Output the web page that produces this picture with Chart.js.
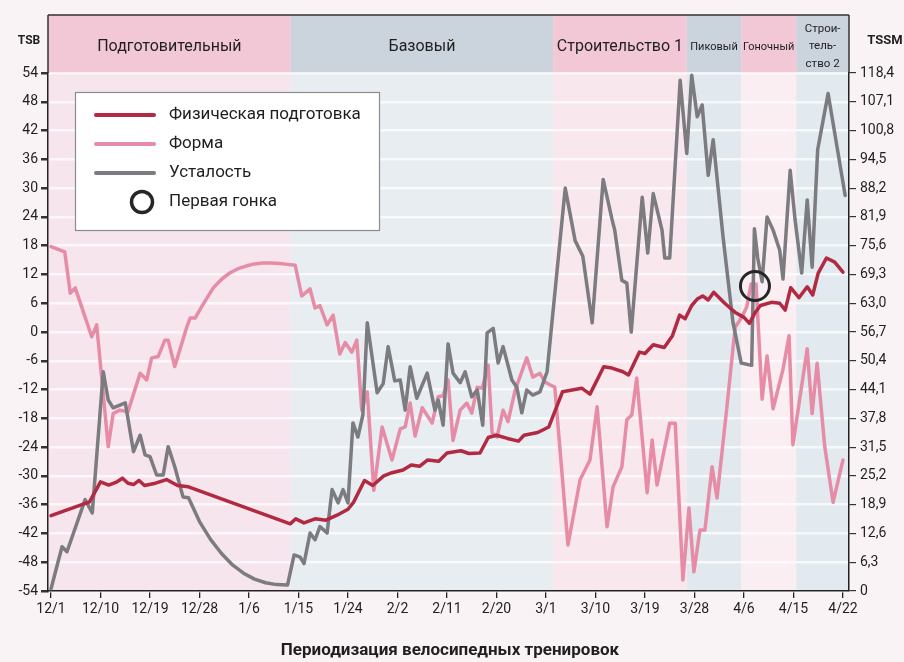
<!DOCTYPE html>
<html lang="ru">
<head>
<meta charset="utf-8">
<title>Периодизация велосипедных тренировок</title>
<script src="https://cdn.jsdelivr.net/npm/chart.js@4.4.1/dist/chart.umd.min.js"></script>
<style>
  html, body { margin: 0; padding: 0; background: #f9f3f6; }
  #chart { display: block; }
</style>
</head>
<body>
<canvas id="chart" width="904" height="662"></canvas>
<script>
// x axis = days since 12/1
const dayTicks = [0, 9, 18, 27, 36, 45, 54, 63, 72, 81, 90, 99, 108, 117, 126, 135, 144];
const dateLabels = ['12/1', '12/10', '12/19', '12/28', '1/6', '1/15', '1/24', '2/2', '2/11', '2/20', '3/1', '3/10', '3/19', '3/28', '4/6', '4/15', '4/22'];
const tssmLabels = ['0', '6,3', '12,6', '18,9', '25,2', '31,5', '37,8', '44,1', '50,4', '56,7', '63,0', '69,3', '75,6', '81,9', '88,2', '94,5', '100,8', '107,1', '118,4'];

// training phases and the days where one phase gives way to the next
const phaseNames = ['Подготовительный', 'Базовый', 'Строительство 1', 'Пиковый', 'Гоночный', ['Строи-', 'тель-', 'ство 2']];
const phaseBreaks = [43.6, 91.3, 115.6, 125.5, 135.5];

// Физическая подготовка (CTL), right axis
const fitnessDays = [0, 7, 9, 10.5, 12, 13, 14, 15, 16, 17, 19, 21, 23, 25, 43.5, 44.5, 46, 48, 50, 52, 54, 55, 57, 58.5, 60.5, 62, 64, 65.5, 67, 68.5, 70.5, 72, 74.5, 76, 78, 79.5, 81, 83, 85, 86, 88.5, 90.5, 93, 96.5, 98, 100.5, 102, 104, 105, 107, 108, 109.5, 111.5, 113, 114.3, 115.3, 116.5, 117.5, 118.5, 119.5, 120.5, 122.5, 124.5, 126, 127, 128, 129, 131, 132.5, 133.5, 134.5, 136, 137.5, 138.5, 139.5, 141, 142.5, 144];
const fitnessTSS = [16.5, 19.5, 23.9, 23.2, 23.9, 24.7, 23.6, 23.3, 24.2, 23.1, 23.6, 24.4, 23.1, 22.8, 14.7, 15.8, 14.9, 15.8, 15.5, 16.6, 17.9, 19.4, 24.2, 23.1, 25.2, 25.9, 26.5, 27.6, 27.3, 28.7, 28.4, 30.2, 30.7, 30.1, 30.2, 33.6, 34.1, 33.4, 32.8, 34.1, 34.7, 35.9, 43.6, 44.4, 43.1, 49.1, 48.8, 48, 47.3, 52.3, 52, 53.9, 53.3, 55.9, 60.4, 59.6, 62.5, 63.9, 64.6, 63.7, 65.4, 63, 60.9, 59.9, 58.6, 60.9, 62.5, 63.2, 63, 61.5, 66.4, 64.2, 66.6, 64.8, 69.6, 72.9, 72, 69.8];

// Форма (TSB), left axis
const formDays = [0, 2.5, 3.5, 4.4, 7.4, 8.3, 10.4, 11.3, 12.5, 14, 16.2, 17.4, 18.3, 19.5, 20.7, 21.3, 22.5, 24.7, 25.3, 26.2, 27.5, 29.5, 31, 32.5, 34, 35.6, 37, 38.5, 40, 41.6, 43, 44.4, 45.6, 47.1, 48, 48.9, 50.2, 51.3, 52.5, 53.5, 54.7, 55.6, 56.5, 57.5, 58.7, 60.2, 62, 63.5, 64.4, 65.3, 66.2, 67.5, 69.3, 70.4, 71.3, 72.2, 73.1, 74.4, 75.6, 76.5, 77.5, 78.4, 79.5, 80.2, 81.1, 82.2, 83.1, 84.4, 86.5, 87.6, 88.9, 89.8, 90.7, 91.6, 94, 96.2, 98, 99.3, 101.1, 102.2, 103.8, 104.7, 105.6, 106.5, 108.4, 109.3, 110.2, 112.5, 113.5, 114.9, 116, 116.9, 118, 118.9, 120.2, 121.1, 122.9, 124.4, 125.6, 126.5, 127.3, 128.2, 129.3, 130.2, 131.3, 133.1, 134.2, 134.9, 137.5, 138.4, 139.3, 140.7, 142.2, 144];
const formTSB = [17.8, 16.7, 8.1, 9.2, -1, 1.5, -23.9, -17, -16.3, -16.6, -8.6, -10, -5.4, -5.1, -1.7, -1.7, -7.2, 1.1, 2.9, 2.9, 5.5, 9.2, 11, 12.3, 13.2, 13.8, 14.2, 14.4, 14.4, 14.3, 14.1, 13.9, 7.5, 9, 5, 5.5, 1.5, 3.5, -4.6, -2.2, -4.2, -1.7, -16.3, -12.5, -33, -19.8, -26.7, -20.2, -19.8, -14.8, -21.7, -15.8, -19, -13.5, -13.3, -10, -22.6, -16.3, -14.8, -16.9, -11.5, -11.7, -6.9, -21, -21.9, -16.3, -18.7, -12.1, -5.4, -9.4, -8.6, -10.4, -11, -11.5, -44.4, -30.8, -26.7, -15.6, -40.6, -32.3, -28.1, -18.3, -17.3, -9.6, -33.5, -22.5, -31.9, -19, -19, -51.7, -36.7, -50, -41.3, -41.3, -28.1, -34.6, -15.6, 1, 3.1, 5.2, 10, 10, -14, -5, -16, -7.8, -0.8, -23.5, -3.5, -17, -6.5, -24, -35.5, -26.7];

// Усталость (ATL), right axis
const fatigueDays = [0, 2, 2.9, 6.2, 7.5, 9.5, 10.4, 11.3, 13.5, 15, 16.2, 17.1, 18, 19.2, 20.4, 21.3, 22.5, 24, 25, 27, 29, 31, 33, 35, 37, 39, 41, 43, 44.2, 45.3, 46, 47.1, 48, 48.9, 50.2, 51.1, 52.2, 53.1, 54, 54.9, 55.8, 56.7, 57.5, 59.3, 60.4, 61.3, 62.5, 63.5, 64.4, 65.3, 66.5, 68.4, 69.8, 70.4, 71.3, 72.2, 73.1, 74.4, 75.3, 76.5, 77.5, 78.5, 79.3, 80.4, 81.3, 82.2, 83.8, 84.7, 85.6, 86.5, 87.6, 88.9, 90.2, 93.5, 95.3, 96.7, 98.4, 100.4, 102, 102.5, 103.8, 104.7, 105.5, 107.5, 108.5, 109.5, 111.1, 111.6, 112.5, 114.4, 115.6, 116.5, 117.5, 118.4, 119.5, 120.4, 122.2, 124, 125.5, 127.4, 127.9, 128.5, 129.3, 130.2, 131.3, 132.5, 133.1, 134.4, 135.3, 136.5, 137.5, 138.4, 139.4, 141.3, 144.4];
const fatigueTSS = [0.5, 9.7, 8.6, 20, 17.1, 48, 41.8, 40.1, 41.2, 30.5, 34.1, 29.8, 29.4, 25.4, 25.4, 31.6, 27.2, 20.6, 20.4, 15.2, 11.3, 8.2, 5.7, 3.9, 2.6, 1.8, 1.4, 1.3, 7.9, 7.4, 6, 12.7, 11.2, 14.1, 12.7, 22.2, 19.3, 22.2, 19.3, 36.8, 33.7, 38.5, 58.7, 43.4, 45.4, 53.5, 46, 46.2, 39.6, 49.1, 42.2, 47.7, 39.6, 41.8, 36.3, 54.1, 47.7, 45.6, 48, 42.5, 44, 36.3, 56.5, 57.5, 49.9, 53.5, 46.2, 44.6, 39, 44, 42.9, 43.6, 48, 88.2, 76.7, 73.3, 58.7, 90.1, 81.4, 79, 68, 67.4, 56.7, 86.2, 74, 87, 79, 72.9, 72.9, 111.8, 95.8, 112.9, 103.8, 106.4, 91, 98.8, 77.5, 58.8, 49.9, 49.4, 79.3, 72.9, 67.7, 81.9, 79, 74.6, 68.3, 92.1, 81.2, 69.6, 85.6, 70.9, 96.6, 108.9, 86.6];

// first race (day, TSB)
const raceDay = 128;
const raceForm = 9.6;

const RED = '#b12a42';
const PINK = '#e68ca6';
const GRAY = '#7b7b80';
const INK = '#1f1f1f';
const FONT = 'Roboto, "Liberation Sans", sans-serif';

const toPoints = (xs, ys) => xs.map((x, i) => ({ x, y: ys[i] }));

const headPink = '#f2c7d6';
const headBlue = '#cbd3dd';
const areaColors = ['#f7e5ed', '#e8edf2', '#f8e8ee', '#e1e8ee', '#faeef3', '#e2e9ef'];

const backdrop = {
  id: 'backdrop',
  beforeDraw(chart) {
    const { ctx, chartArea: a, scales: { x } } = chart;
    const edges = [a.left, ...phaseBreaks.map(d => x.getPixelForValue(d)), a.right];
    ctx.save();
    ctx.fillStyle = '#f9f3f6';
    ctx.fillRect(0, 0, chart.width, chart.height);
    for (let i = 0; i < phaseNames.length; i++) {
      const x0 = edges[i], x1 = edges[i + 1];
      ctx.fillStyle = i % 2 === 0 ? headPink : headBlue;
      ctx.fillRect(x0, 15, x1 - x0, a.top - 15);
      ctx.fillStyle = areaColors[i];
      ctx.fillRect(x0, a.top, x1 - x0, a.bottom - a.top);

      const cx = (x0 + x1) / 2;
      ctx.fillStyle = INK;
      ctx.textAlign = 'center';
      ctx.textBaseline = 'middle';
      const name = phaseNames[i];
      if (Array.isArray(name)) {
        ctx.font = '11.5px ' + FONT;
        name.forEach((line, k) => ctx.fillText(line, cx, 29 + k * 17.5));
      } else {
        ctx.font = (i < 3 ? '16px ' : '11px ') + FONT;
        ctx.fillText(name, cx, 47);
      }
    }
    ctx.restore();
  }
};

const overlay = {
  id: 'overlay',
  afterDraw(chart) {
    const { ctx, chartArea: a } = chart;
    ctx.save();
    // frame of the phase header
    ctx.strokeStyle = '#333';
    ctx.lineWidth = 1.5;
    ctx.beginPath();
    ctx.moveTo(a.left, 15); ctx.lineTo(a.right, 15);
    ctx.moveTo(a.left, 15); ctx.lineTo(a.left, a.top);
    ctx.moveTo(a.right, 15); ctx.lineTo(a.right, a.top);
    ctx.stroke();

    // axis names
    ctx.fillStyle = INK;
    ctx.textBaseline = 'middle';
    ctx.textAlign = 'center';
    ctx.font = 'bold 12px ' + FONT;
    ctx.fillText('TSB', 29, 41);
    ctx.font = 'bold 13px ' + FONT;
    ctx.fillText('TSSM', 885, 41);

    // title
    ctx.font = 'bold 17px ' + FONT;
    ctx.fillText('Периодизация велосипедных тренировок', 450, 651);

    // legend box
    ctx.fillStyle = '#ffffff';
    ctx.fillRect(75.5, 92.5, 304, 138);
    ctx.strokeStyle = '#8c8c8c';
    ctx.lineWidth = 1.2;
    ctx.strokeRect(75.5, 92.5, 304, 138);
    const items = [['Физическая подготовка', RED], ['Форма', PINK], ['Усталость', GRAY]];
    ctx.lineCap = 'round';
    items.forEach(([label, color], k) => {
      const y = 115 + k * 29;
      ctx.strokeStyle = color;
      ctx.lineWidth = 4;
      ctx.beginPath();
      ctx.moveTo(96, y); ctx.lineTo(154, y);
      ctx.stroke();
      ctx.fillStyle = INK;
      ctx.textAlign = 'left';
      ctx.font = '17px ' + FONT;
      ctx.fillText(label, 169, y);
    });
    ctx.strokeStyle = '#262626';
    ctx.lineWidth = 3.5;
    ctx.beginPath();
    ctx.arc(142, 202, 10.5, 0, Math.PI * 2);
    ctx.stroke();
    ctx.fillText('Первая гонка', 169, 202);
    ctx.restore();
  }
};

const tickFont = { family: FONT, size: 14 };

new Chart(document.getElementById('chart'), {
  type: 'line',
  data: {
    datasets: [
      {
        label: 'Первая гонка',
        data: [{ x: raceDay, y: raceForm }],
        yAxisID: 'y',
        showLine: false,
        pointRadius: 14.5,
        pointBorderWidth: 3,
        pointBorderColor: '#262626',
        pointBackgroundColor: 'rgba(0,0,0,0)',
        order: 0
      },
      {
        label: 'Физическая подготовка',
        data: toPoints(fitnessDays, fitnessTSS),
        yAxisID: 'y2',
        borderColor: RED,
        borderWidth: 3.5,
        order: 1
      },
      {
        label: 'Усталость',
        data: toPoints(fatigueDays, fatigueTSS),
        yAxisID: 'y2',
        borderColor: GRAY,
        borderWidth: 3.5,
        order: 2
      },
      {
        label: 'Форма',
        data: toPoints(formDays, formTSB),
        yAxisID: 'y',
        borderColor: PINK,
        borderWidth: 3.5,
        order: 3
      }
    ]
  },
  options: {
    responsive: false,
    animation: false,
    devicePixelRatio: 1,
    layout: { padding: { top: 73, left: 0, right: 0, bottom: 0 } },
    plugins: { legend: { display: false }, tooltip: { enabled: false } },
    elements: {
      point: { radius: 0, hoverRadius: 0 },
      line: { tension: 0, borderJoinStyle: 'round', borderCapStyle: 'round' }
    },
    scales: {
      x: {
        type: 'linear',
        min: -0.55,
        max: 145.1,
        afterFit: s => { s.height = 71; },
        afterBuildTicks: s => { s.ticks = dayTicks.map(v => ({ value: v })); },
        ticks: {
          callback: (v, i) => dateLabels[i],
          font: tickFont, color: INK, padding: 3,
          maxRotation: 0, autoSkip: false
        },
        grid: { drawOnChartArea: false, tickLength: 7, tickColor: '#222', lineWidth: 1.3 },
        border: { color: '#222', width: 1.5 }
      },
      y: {
        position: 'left',
        min: -54,
        max: 54,
        afterFit: s => { s.width = 48; },
        ticks: { stepSize: 6, callback: v => String(v), font: tickFont, color: INK, padding: 3 },
        grid: { color: 'rgba(255,255,255,0.7)', lineWidth: 2.5, tickColor: '#333', tickLength: 7 },
        border: { color: '#222', width: 1.5 }
      },
      y2: {
        position: 'right',
        min: 0,
        max: 113.4,
        afterFit: s => { s.width = 55; },
        ticks: { stepSize: 6.3, callback: (v, i) => tssmLabels[i], font: tickFont, color: INK, padding: 4 },
        grid: { drawOnChartArea: false, tickColor: '#333', tickLength: 7, lineWidth: 1.2 },
        border: { color: '#222', width: 1.5 }
      }
    }
  },
  plugins: [backdrop, overlay]
});
</script>
</body>
</html>
